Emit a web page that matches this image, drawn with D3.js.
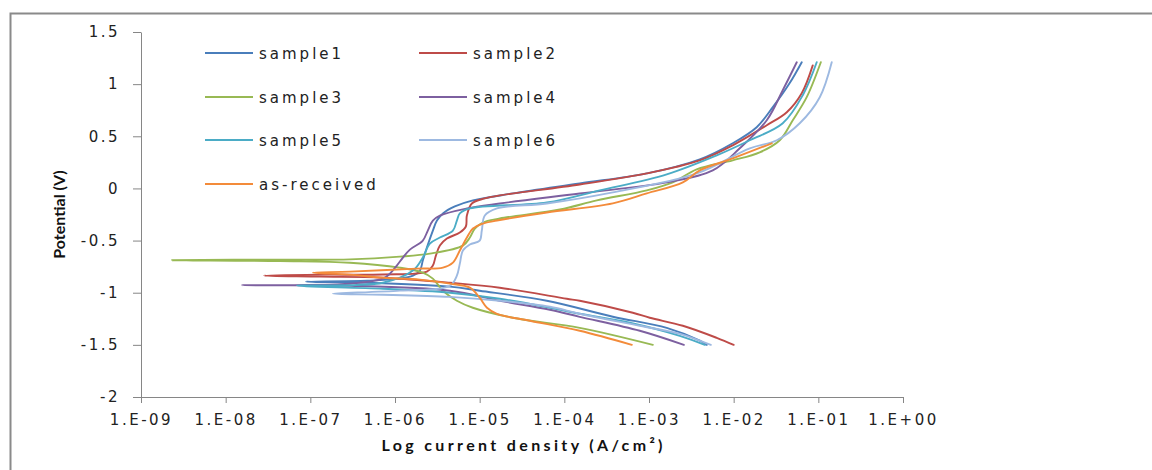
<!DOCTYPE html>
<html>
<head>
<meta charset="utf-8">
<script src="https://cdn.jsdelivr.net/npm/d3@7"></script>
<style>
  body { margin: 0; background: #fff; }
  svg { display: block; }
</style>
</head>
<body>
<svg id="chart" width="1152" height="470"></svg>
<script>
// Potentiodynamic polarization curves: [current density (A/cm²), potential (V)]
// Each scan runs from the cathodic end, through the corrosion potential, up the anodic branch.
const sample1 = [
  [4.81e-3, -1.50], [3.98e-3, -1.46], [1.62e-3, -1.337], [3.74e-4, -1.23], [6.21e-5, -1.077],
  [1.0e-5, -0.981], [4.45e-6, -0.942], [4.66e-7, -0.904], [8.87e-8, -0.894],
  [4.66e-7, -0.885], [1.14e-6, -0.865], [1.63e-6, -0.837], [1.97e-6, -0.788], [2.13e-6, -0.692],
  [2.38e-6, -0.567], [2.80e-6, -0.404], [3.13e-6, -0.308], [3.68e-6, -0.240], [5.09e-6, -0.173],
  [8.32e-6, -0.115], [2.47e-5, -0.048], [1.52e-4, 0.048], [9.42e-4, 0.144], [3.98e-3, 0.279],
  [9.75e-3, 0.433], [1.87e-2, 0.587], [2.90e-2, 0.779], [4.59e-2, 1.01], [6.37e-2, 1.21]
];
const sample2 = [
  [1.0e-2, -1.50], [6.31e-3, -1.433], [2.51e-3, -1.317], [1.02e-3, -1.240], [6.44e-4, -1.192],
  [1.52e-4, -1.077], [1.07e-4, -1.058], [1.73e-5, -0.952], [4.45e-6, -0.904], [7.19e-7, -0.856],
  [1.30e-7, -0.846], [2.83e-8, -0.837],
  [1.30e-7, -0.827], [7.19e-7, -0.825], [2.38e-6, -0.798], [2.80e-6, -0.740], [3.04e-6, -0.644],
  [3.39e-6, -0.548], [4.10e-6, -0.481], [5.83e-6, -0.423], [6.87e-6, -0.365], [7.06e-6, -0.260],
  [8.09e-6, -0.144], [1.15e-5, -0.096], [1.73e-5, -0.067], [1.52e-4, 0.038], [9.42e-4, 0.144],
  [3.98e-3, 0.269], [9.75e-3, 0.413], [2.46e-2, 0.606], [4.24e-2, 0.731], [6.37e-2, 0.913],
  [8.59e-2, 1.18]
];
const sample3 = [
  [1.11e-3, -1.50], [1.52e-4, -1.337], [2.47e-5, -1.240], [8.3e-6, -1.144], [5.38e-6, -1.077],
  [3.68e-6, -0.981], [2.80e-6, -0.865], [2.13e-6, -0.808], [1.14e-6, -0.760], [2.94e-7, -0.712],
  [4.38e-8, -0.697], [2.32e-9, -0.688],
  [4.38e-8, -0.683], [2.94e-7, -0.680], [1.14e-6, -0.654], [2.58e-6, -0.625], [6.34e-6, -0.548],
  [7.66e-6, -0.471], [8.77e-6, -0.385], [1.09e-5, -0.327], [1.73e-5, -0.288], [8.85e-5, -0.202],
  [2.42e-4, -0.115], [9.42e-4, -0.019], [1.91e-3, 0.058], [3.66e-3, 0.183], [9.75e-3, 0.269],
  [2.03e-2, 0.346], [3.50e-2, 0.462], [4.99e-2, 0.654], [7.29e-2, 0.875], [1.07e-1, 1.21]
];
const sample4 = [
  [2.58e-3, -1.50], [7.78e-4, -1.365], [1.52e-4, -1.231], [6.75e-5, -1.163], [1.73e-5, -1.077],
  [4.45e-6, -0.981], [2.94e-7, -0.933], [1.56e-8, -0.928],
  [2.94e-7, -0.913], [7.19e-7, -0.865], [8.71e-7, -0.817], [1.05e-6, -0.740], [1.24e-6, -0.663],
  [1.50e-6, -0.587], [2.13e-6, -0.500], [2.44e-6, -0.404], [2.80e-6, -0.308], [3.39e-6, -0.260],
  [7.06e-6, -0.192], [1.73e-5, -0.144], [1.52e-4, -0.048], [1.62e-3, 0.058], [5.66e-3, 0.173],
  [1.18e-2, 0.385], [2.46e-2, 0.654], [3.80e-2, 0.942], [5.56e-2, 1.21]
];
const sample5 = [
  [4.56e-3, -1.50], [2.31e-3, -1.413], [5.93e-4, -1.288], [1.52e-4, -1.202], [6.75e-5, -1.144],
  [1.73e-5, -1.058], [4.45e-6, -1.0], [7.19e-7, -0.962], [6.95e-8, -0.933],
  [7.19e-7, -0.904], [1.63e-6, -0.788], [2.13e-6, -0.663], [2.58e-6, -0.529], [3.39e-6, -0.471],
  [4.83e-6, -0.404], [5.38e-6, -0.308], [5.83e-6, -0.240], [7.66e-6, -0.192], [6.21e-5, -0.135],
  [2.62e-4, -0.019], [1.62e-3, 0.135], [6.31e-3, 0.317], [1.55e-2, 0.462], [3.80e-2, 0.625],
  [6.55e-2, 0.894], [9.57e-2, 1.21]
];
const sample6 = [
  [5.37e-3, -1.50], [2.31e-3, -1.394], [7.78e-4, -1.317], [1.52e-4, -1.202], [6.75e-5, -1.135],
  [1.73e-5, -1.077], [4.45e-6, -1.04], [7.19e-7, -1.019], [1.85e-7, -1.01],
  [1.14e-6, -0.98], [4.45e-6, -0.933], [5.38e-6, -0.837], [5.83e-6, -0.721], [6.34e-6, -0.596],
  [7.66e-6, -0.538], [1.0e-5, -0.500], [1.06e-5, -0.404], [1.15e-5, -0.260], [1.60e-5, -0.192],
  [6.21e-5, -0.144], [3.74e-4, -0.038], [3.66e-3, 0.144], [1.55e-2, 0.385], [3.23e-2, 0.462],
  [6.03e-2, 0.625], [1.04e-1, 0.875], [1.44e-1, 1.21]
];
const asReceived = [
  [6.27e-4, -1.50], [1.52e-4, -1.365], [3.92e-5, -1.269], [1.60e-5, -1.202], [1.22e-5, -1.144],
  [1.0e-5, -1.048], [7.66e-6, -0.952], [4.45e-6, -0.913], [1.97e-6, -0.875], [7.19e-7, -0.856],
  [2.94e-7, -0.827], [1.07e-7, -0.808],
  [2.94e-7, -0.798], [1.82e-6, -0.769], [3.68e-6, -0.760], [4.83e-6, -0.712], [5.83e-6, -0.596],
  [7.06e-6, -0.471], [8.32e-6, -0.385], [1.09e-5, -0.337], [1.60e-5, -0.308], [6.21e-5, -0.231],
  [3.74e-4, -0.144], [9.42e-4, -0.048], [2.51e-3, 0.058], [3.98e-3, 0.173], [9.75e-3, 0.288],
  [2.82e-2, 0.433]
];

const seriesNames = ["sample1", "sample2", "sample3", "sample4", "sample5", "sample6", "as-received"];
const seriesData = [sample1, sample2, sample3, sample4, sample5, sample6, asReceived];
const seriesColors = ["#4A7EBB", "#BE4B48", "#98B954", "#7D60A0", "#4BACC6", "#9DB9E1", "#F38B3A"];

const xTicks = [1e-9, 1e-8, 1e-7, 1e-6, 1e-5, 1e-4, 1e-3, 1e-2, 1e-1, 1];
const xTickLabels = ["1.E-09", "1.E-08", "1.E-07", "1.E-06", "1.E-05", "1.E-04", "1.E-03", "1.E-02", "1.E-01", "1.E+00"];
const yTicks = [-2, -1.5, -1, -0.5, 0, 0.5, 1, 1.5];
const yTickLabels = ["-2", "-1.5", "-1", "-0.5", "0", "0.5", "1", "1.5"];

const svg = d3.select("#chart");
const axisColor = "#868686";
const tickFont = "'DejaVu Sans', Verdana, sans-serif";
const titleFont = "Lato, 'Open Sans', sans-serif";

// chart frame (only its left and top edges fall inside the view)
svg.append("rect")
  .attr("x", 10.5).attr("y", 13.5)
  .attr("width", 1200).attr("height", 500)
  .attr("fill", "#fff")
  .attr("stroke", "#8a8a8a").attr("stroke-width", 2);

const x = d3.scaleLog().domain([1e-9, 1]).range([141, 903]);
const y = d3.scaleLinear().domain([-2, 1.5]).range([397, 32]);

// axes
const xAxis = d3.axisBottom(x)
  .tickValues(xTicks)
  .tickFormat((d, i) => xTickLabels[i])
  .tickSize(6).tickPadding(13).tickSizeOuter(0);
const gx = svg.append("g").attr("transform", `translate(0,${y(-2)})`).call(xAxis);

const yAxis = d3.axisLeft(y)
  .tickValues(yTicks)
  .tickFormat((d, i) => yTickLabels[i])
  .tickSize(8).tickPadding(13).tickSizeOuter(0);
const gy = svg.append("g").attr("transform", `translate(${x(1e-9)},0)`).call(yAxis);

[gx, gy].forEach(g => {
  g.select(".domain").attr("stroke", axisColor).attr("stroke-width", 1);
  g.selectAll(".tick line").attr("stroke", axisColor);
  g.selectAll(".tick text")
    .attr("fill", "#222")
    .style("font-family", tickFont)
    .style("font-size", "15px")
    .style("letter-spacing", "2.5px");
});
gx.selectAll(".tick text").attr("dy", "0.72em").attr("y", 17);

// axis titles
svg.append("text")
  .attr("x", (x(1e-9) + x(1)) / 2).attr("y", 451)
  .attr("text-anchor", "middle")
  .attr("textLength", 281).attr("lengthAdjust", "spacing")
  .style("font-family", titleFont)
  .style("font-size", "16px").style("font-weight", "bold")
  .attr("fill", "#111")
  .text("Log current density (A/cm²)");

svg.append("text")
  .attr("transform", `translate(65,${(y(-2) + y(1.5)) / 2}) rotate(-90)`)
  .attr("text-anchor", "middle")
  .style("font-family", titleFont)
  .style("font-size", "16px").style("font-weight", "bold")
  .attr("fill", "#111")
  .text("Potential (V)");

// curves
const line = d3.line()
  .x(d => x(d[0]))
  .y(d => y(d[1]))
  .curve(d3.curveCatmullRom.alpha(0.5));

svg.append("g").selectAll("path")
  .data(seriesData)
  .join("path")
  .attr("d", line)
  .attr("fill", "none")
  .attr("stroke", (d, i) => seriesColors[i])
  .attr("stroke-width", 1.9)
  .attr("stroke-linejoin", "round")
  .attr("stroke-linecap", "round");

// legend: two columns, filled row by row
const legendCols = [205, 419];
const legendRows = [53, 97, 140, 184];
const legend = svg.append("g").selectAll("g")
  .data(seriesNames)
  .join("g")
  .attr("transform", (d, i) => `translate(${legendCols[i % 2]},${legendRows[Math.floor(i / 2)]})`);
legend.append("line")
  .attr("x1", 0).attr("x2", 48).attr("y1", 0).attr("y2", 0)
  .attr("stroke", (d, i) => seriesColors[i]).attr("stroke-width", 2);
legend.append("text")
  .attr("x", 54).attr("y", 6)
  .style("font-family", tickFont)
  .style("font-size", "15px")
  .style("letter-spacing", "3px")
  .attr("fill", "#222")
  .text(d => d);
</script>
</body>
</html>
